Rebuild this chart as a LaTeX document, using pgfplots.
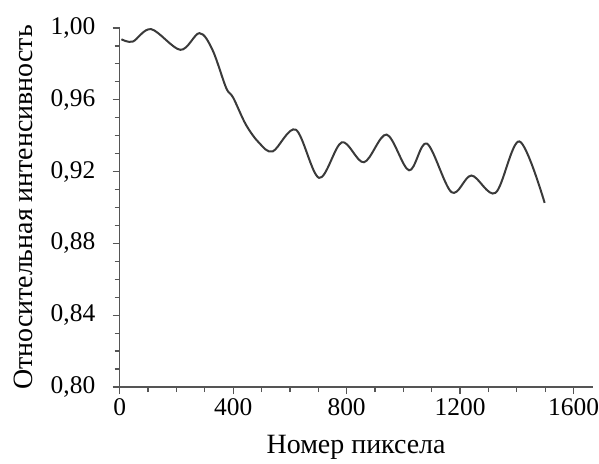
\documentclass[border=0pt]{standalone}
\usepackage{pgfplots}
\pgfplotsset{compat=1.18}
\usepackage{fontspec}
\setmainfont{Liberation Serif}
\definecolor{curve}{HTML}{3A3A3A}
\definecolor{axisc}{HTML}{555555}
\begin{document}
\begin{tikzpicture}
\begin{axis}[
    name=ax,
    scale only axis,
    width=474pt, height=360pt,
    xmin=0, xmax=1667, ymin=0.80, ymax=1.00,
    axis x line*=bottom, axis y line*=left,
    axis line style={axisc, line width=1.3pt},
    every tick/.style={axisc, line width=1.3pt},
    tick align=outside,
    major tick length=7pt, minor tick length=5pt,
    xtick={0,400,...,1600}, minor x tick num=3,
    ytick={0.80,0.84,0.88,0.92,0.96,1.00}, minor y tick num=3,
    /pgf/number format/assume math mode=true,
    yticklabel style={xshift=-14pt, /pgf/number format/.cd, use comma, fixed, fixed zerofill, precision=2},
    xticklabel style={inner xsep=0pt, yshift=-1pt, /pgf/number format/.cd, 1000 sep={}},
    tick label style={font=\fontsize{25.5}{29}\selectfont},
    label style={font=\fontsize{28}{32}\selectfont},
    xlabel={Номер пиксела},
    ylabel={Относительная интенсивность},
    xlabel style={at={(axis description cs:0.5,-0.125)}, anchor=north},
    ylabel style={at={(axis description cs:-0.1772,0.5)}, anchor=south},
    clip=false,
]
\addplot[curve, line width=2pt, smooth, tension=0.55] coordinates {
(6,0.9937) (46,0.9924) (111,0.9993) (214,0.9878) (281,0.9971)
(327,0.9878) (375,0.9667) (400,0.9612) (445,0.9461)
(492,0.9359) (540,0.9313) (621,0.9433)
(703,0.9165) (783,0.9363) (861,0.9252) (941,0.9406)
(1020,0.9207) (1083,0.9356) (1170,0.9085) (1240,0.9178) (1325,0.9082)
(1409,0.9368) (1498,0.9026)
};
\end{axis}
\path[use as bounding box] ([xshift=-120pt,yshift=-73pt]ax.south west) rectangle ([xshift=5pt,yshift=28pt]ax.north east);
\end{tikzpicture}
\end{document}
